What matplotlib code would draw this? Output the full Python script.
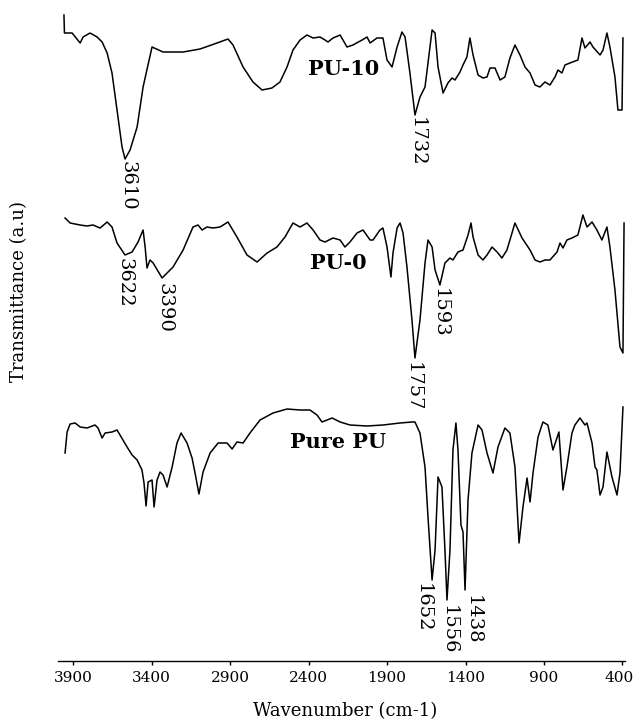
import numpy as np
import matplotlib
matplotlib.use("Agg")
import matplotlib.pyplot as plt
from matplotlib.transforms import ScaledTranslation

plt.rcParams["font.family"] = ["DejaVu Serif"]

# PU-10 spectrum (wavenumber in cm-1, transmittance in a.u. incl. vertical offset)
pu10_wn = [3958, 3955, 3938, 3906, 3855, 3836, 3792, 3747, 3715, 3683, 3652, 3620, 3588,
           3569, 3537, 3492, 3454, 3397, 3327, 3199, 3091, 2983, 2913, 2881, 2817, 2754,
           2696, 2633, 2582, 2537, 2499, 2454, 2410, 2371, 2327, 2295, 2276, 2244, 2199,
           2155, 2117, 2059, 2027, 2008, 1964, 1926, 1900, 1868, 1836, 1805, 1785, 1754,
           1722, 1690, 1658, 1639, 1613, 1594, 1575, 1543, 1512, 1486, 1467, 1435, 1416,
           1391, 1372, 1352, 1320, 1289, 1263, 1244, 1212, 1180, 1149, 1117, 1085, 1053,
           1021, 989, 957, 926, 894, 862, 830, 811, 786, 766, 735, 684, 658, 639, 607, 588,
           543, 524, 499, 480, 448, 429, 403, 397]
pu10_t = [705, 687, 687, 687, 677, 683, 687, 683, 678, 667, 647, 610, 573,
          561, 570, 593, 633, 673, 668, 668, 671, 677, 681, 675, 653, 638,
          630, 632, 638, 653, 670, 680, 685, 682, 683, 680, 678, 682, 685,
          673, 675, 680, 683, 677, 682, 682, 660, 653, 673, 688, 683, 647,
          605, 623, 633, 657, 690, 687, 653, 627, 637, 642, 640, 648, 655,
          663, 682, 665, 645, 642, 643, 652, 652, 640, 643, 662, 675, 665,
          653, 647, 635, 633, 638, 635, 643, 650, 647, 655, 657, 660, 682, 672, 678, 673,
          665, 670, 687, 673, 643, 610, 610, 682]

# PU-0 spectrum
pu0_wn = [3951, 3919, 3855, 3811, 3773, 3728, 3683, 3652, 3620, 3569, 3524, 3486, 3454,
          3441, 3429, 3410, 3390, 3333, 3263, 3199, 3136, 3104, 3078, 3047, 3008, 2964,
          2913, 2856, 2792, 2728, 2664, 2601, 2550, 2499, 2454, 2410, 2371, 2327, 2295,
          2244, 2199, 2168, 2136, 2091, 2053, 2008, 1989, 1945, 1926, 1900, 1875, 1862,
          1836, 1817, 1798, 1773, 1741, 1722, 1690, 1658, 1639, 1613, 1594, 1563, 1531,
          1499, 1480, 1448, 1416, 1384, 1365, 1352, 1320, 1289, 1263, 1231, 1199, 1168,
          1136, 1085, 1040, 989, 957, 926, 894, 862, 817, 798, 779, 754, 722, 684, 652,
          626, 594, 563, 531, 499, 480, 448, 416, 397, 390]
pu0_t = [502, 497, 495, 494, 495, 492, 498, 493, 477, 465, 468, 478, 490,
         473, 452, 460, 457, 442, 453, 470, 493, 495, 490, 493, 492, 493,
         498, 483, 465, 458, 467, 473, 483, 497, 493, 497, 490, 480, 478,
         482, 480, 473, 478, 487, 490, 480, 480, 490, 492, 473, 443, 467,
         492, 497, 487, 453, 400, 362, 400, 457, 480, 473, 450, 435, 457,
         462, 460, 468, 470, 485, 497, 483, 465, 460, 465, 473, 468, 462,
         470, 497, 482, 470, 460, 458, 460, 460, 468, 477, 472, 480, 482, 485, 505,
         493, 498, 490, 480, 493, 473, 430, 373, 367, 497]

# Pure PU spectrum
pure_wn = [3951, 3938, 3919, 3887, 3855, 3811, 3760, 3741, 3715, 3696, 3652, 3620, 3601,
           3556, 3524, 3492, 3461, 3448, 3435, 3422, 3397, 3384, 3365, 3346, 3327, 3301,
           3269, 3238, 3212, 3174, 3142, 3123, 3098, 3072, 3027, 2976, 2919, 2887, 2856,
           2817, 2773, 2709, 2626, 2537, 2454, 2391, 2346, 2314, 2250, 2199, 2136, 2027,
           1926, 1817, 1741, 1722, 1690, 1658, 1639, 1613, 1594, 1575, 1550, 1531, 1518,
           1499, 1480, 1461, 1448, 1429, 1416, 1403, 1384, 1359, 1320, 1295, 1263, 1225,
           1193, 1149, 1117, 1085, 1059, 1034, 1008, 989, 970, 938, 907, 875, 843, 805,
           779, 754, 722, 703, 671, 639, 626, 594, 575, 563, 543, 524, 499, 467, 435, 416, 397]
pure_t = [267, 288, 296, 297, 293, 292, 295, 292, 282, 287, 288, 290, 285,
          273, 265, 260, 250, 237, 214, 238, 240, 213, 240, 248, 245, 233,
          253, 277, 287, 277, 262, 247, 226, 248, 267, 277, 277, 271, 278,
          277, 287, 300, 307, 311, 310, 310, 305, 298, 302, 298, 295, 294,
          295, 297, 298, 298, 287, 253, 203, 140, 170, 243, 233, 170, 120,
          170, 270, 297, 270, 195, 188, 130, 220, 267, 295, 290, 267, 247,
          273, 292, 287, 253, 177, 213, 242, 218, 247, 283, 298, 295, 270, 288,
          230, 253, 287, 295, 302, 295, 297, 277, 253, 250, 225, 233, 268, 243, 225, 247, 313]

# annotated bands: wavenumber of the dip and the printed label
pu10_peak_wn = [3569, 1722]
pu10_peak_lab = ["3610", "1732"]
pu0_peak_wn = [3569, 3333, 1722, 1563]
pu0_peak_lab = ["3622", "3390", "1757", "1593"]
pure_peak_wn = [1613, 1518, 1403]
pure_peak_lab = ["1652", "1556", "1438"]

x_ticks = [3900, 3400, 2900, 2400, 1900, 1400, 900, 400]

fig = plt.figure(figsize=(6.36, 7.2), dpi=100)
ax = fig.add_axes([58 / 636, 1 - 661 / 720, 567 / 636, 656 / 720])

for wn, t in [(pu10_wn, pu10_t), (pu0_wn, pu0_t), (pure_wn, pure_t)]:
    ax.plot(wn, t, color="black", lw=1.1, solid_joinstyle="round")

# sample names
ax.text(2403, 651, "PU-10", fontsize=15, fontweight="bold", ha="left", va="center")
ax.text(2391, 457, "PU-0", fontsize=15, fontweight="bold", ha="left", va="center")
ax.text(2518, 278, "Pure PU", fontsize=15, fontweight="bold", ha="left", va="center")

# peak labels, offsets in pixels relative to each dip
label_sets = [
    (pu10_wn, pu10_t, pu10_peak_wn, pu10_peak_lab, [(2, -2), (2, -2)]),
    (pu0_wn, pu0_t, pu0_peak_wn, pu0_peak_lab, [(-1, -3), (2, -5), (-2, -4), (0, -3)]),
    (pure_wn, pure_t, pure_peak_wn, pure_peak_lab, [(-9, -3), (2, -5), (8, -5)]),
]
for wn, t, pk_wn, pk_lab, offs in label_sets:
    for w, lab, (dx, dy) in zip(pk_wn, pk_lab, offs):
        y = np.interp(w, wn[::-1], t[::-1])
        ax.annotate(lab, xy=(w, y), xytext=(dx, dy), textcoords="offset pixels",
                    rotation=270, ha="center", va="top", fontsize=14)

ax.set_xlim(3996, 384)
ax.set_ylim(59, 715)
ax.set_xticks(x_ticks)
ax.set_xticklabels([str(v) for v in x_ticks])
ax.set_yticks([])
for side in ["top", "left", "right"]:
    ax.spines[side].set_visible(False)
ax.spines["bottom"].set_linewidth(1.0)
ax.tick_params(axis="x", direction="out", length=3, width=1, labelsize=11, pad=4)

# keep the last tick label inside the canvas
last = ax.get_xticklabels()[-1]
last.set_transform(last.get_transform() + ScaledTranslation(-0.03, 0, fig.dpi_scale_trans))

fig.text(345 / 636, 1 - 711 / 720, "Wavenumber (cm-1)", fontsize=13, ha="center", va="center")
fig.text(19 / 636, 1 - 291 / 720, "Transmittance (a.u)", fontsize=13, rotation=90,
         ha="center", va="center")

fig.savefig("out.png", dpi=100)
